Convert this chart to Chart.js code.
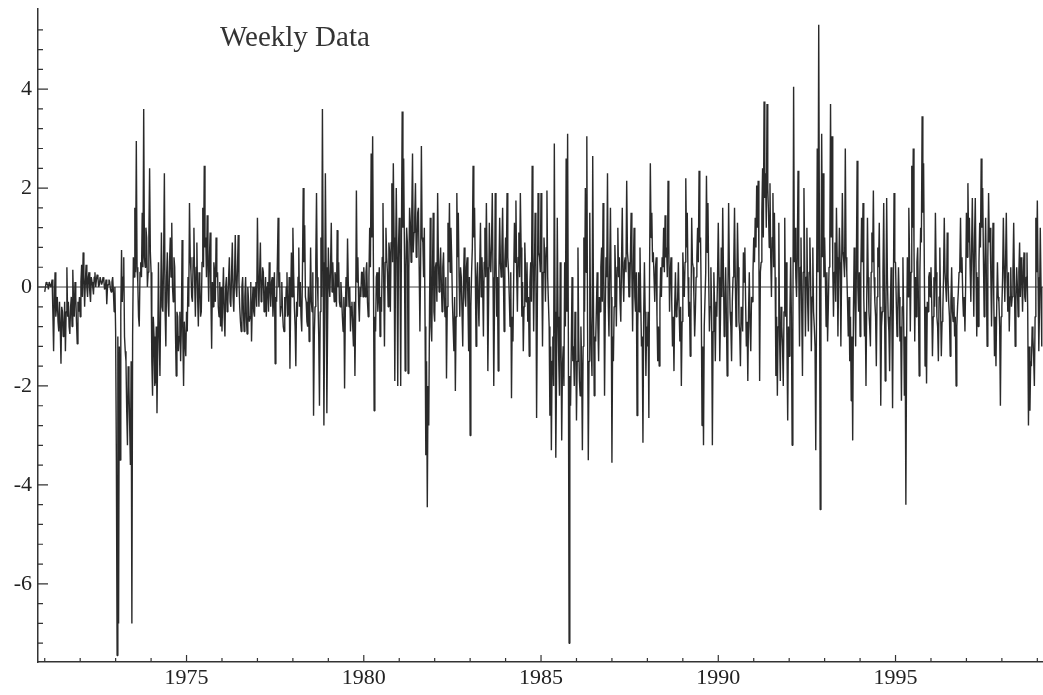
<!DOCTYPE html>
<html>
<head>
<meta charset="utf-8">
<title>Weekly Data</title>
<script src="https://cdn.jsdelivr.net/npm/chart.js@4.4.1/dist/chart.umd.min.js"></script>
<style>
  html, body { margin: 0; padding: 0; background: #fff; }
  #wrap { width: 1043px; height: 695px; position: relative; }
</style>
</head>
<body>
<div id="wrap"><canvas id="weekly"></canvas></div>
<script>
// values, 48 per year starting at 1971.0
const startYear = 1971;
const perYear = 48;

const w1971 = [-0.1, 0.0, 0.1, 0.05, 0.05, -0.05, 0.1, 0.1, 0.0, 0.05, 0.15, -0.5, -1.3, -0.3, 0.3, -0.6, -0.4, -0.2, -0.7, -0.9, -0.3, -0.8, -1.55, -0.4, -0.5, -1.0, -0.9, -0.3, -1.3, -0.5, 0.4, -0.6, -0.3, -0.8, -0.95, -0.4, -0.2, -0.8, 0.35, -0.3, -0.6, 0.1, -0.2, -0.7, -1.15, -0.3, -0.5, -0.2];
const w1972 = [-0.6, 0.1, 0.45, -0.2, 0.7, 0.2, -0.4, 0.1, 0.45, 0.0, -0.2, 0.2, 0.3, -0.1, -0.3, 0.2, 0.1, 0.0, -0.15, 0.2, 0.3, 0.0, 0.15, 0.25, 0.2, 0.0, 0.05, 0.2, 0.2, 0.05, 0.1, 0.2, 0.15, -0.05, 0.0, 0.15, -0.35, 0.0, 0.05, 0.15, 0.1, -0.05, -0.1, 0.1, 0.2, -0.1, -0.5, 0.0];
const w1973 = [-0.9, -3.5, -7.45, -1.0, -6.8, -1.2, -3.5, -0.5, 0.75, -0.3, 0.2, 0.6, -1.0, -1.3, -1.5, -2.5, -3.2, -1.6, -2.0, -2.8, -3.6, -1.5, -6.8, -1.0, 0.6, 0.2, 1.6, 0.3, 2.95, 0.4, 0.1, -0.6, -0.8, 0.3, 0.5, 0.2, 1.5, 0.4, 3.6, 0.6, 0.4, 1.2, 1.0, 0.0, 0.3, 1.0, 2.4, 0.7];
const w1974 = [0.3, -1.5, -2.2, -0.6, -1.0, -2.0, -1.9, -0.8, -2.55, -1.2, 0.5, -1.0, -1.8, -0.3, 1.1, -0.4, -0.5, 0.6, 2.3, -0.5, -1.2, 0.2, 0.7, -0.3, -0.6, 0.5, 1.0, 0.2, 1.3, 0.0, -0.3, 0.6, 0.4, -0.9, -1.8, -0.5, -0.6, -1.3, -1.0, -0.5, -1.5, -0.8, 0.95, -1.0, -2.0, -0.7, -1.1, -1.4];
const w1975 = [-0.5, -0.9, 0.2, -0.4, 1.7, 0.6, 0.3, -0.2, -0.3, 0.6, 1.2, 0.1, -0.6, 0.4, 0.9, -0.2, -0.8, 0.3, 0.1, -0.6, -0.5, 0.5, 1.6, 0.4, 2.45, 0.8, 1.0, 0.2, 1.45, 0.5, -0.3, 0.6, 1.1, -0.2, -1.25, 0.1, -0.4, 0.5, 0.3, -0.3, 1.0, 0.2, 0.3, -0.4, -0.6, 0.1, -0.8, 0.0];
const w1976 = [-0.9, -0.2, 0.4, -0.6, -1.0, 0.0, 0.2, -0.5, -0.3, 0.2, 0.6, -0.3, -0.4, 0.3, 0.9, -0.2, -0.5, 0.2, 1.05, 0.0, -0.2, 0.4, 1.05, 0.1, -0.4, -0.7, -0.9, 0.0, 0.2, -0.5, -0.9, -0.2, 0.2, -0.6, -0.95, 0.0, -0.3, -0.7, -0.6, 0.1, -1.1, -0.4, 0.0, -0.5, -0.6, 0.0, 0.1, -0.4];
const w1977 = [1.4, 0.2, -0.4, 0.3, 0.9, -0.3, -0.2, 0.4, 0.3, -0.5, -0.3, 0.2, -0.6, 0.0, 0.1, -0.5, 0.5, 0.0, -0.4, 0.1, 0.2, -0.6, -0.2, 0.3, -1.55, -0.2, -0.3, 0.5, 1.4, 0.0, 0.3, -0.6, -0.4, 0.1, -0.5, -0.8, -0.9, -0.2, -0.6, 0.0, 0.3, -0.6, -0.5, 0.2, -1.65, -0.3, 0.7, -0.2];
const w1978 = [1.2, 0.3, -0.4, -0.8, -1.6, -0.3, -0.6, 0.2, 0.8, -0.4, 0.1, -0.6, -0.9, 0.4, 2.0, 0.5, 1.25, -0.2, -0.3, -0.7, -0.8, 0.0, -1.1, -0.4, 0.8, -0.3, -0.5, 0.3, -2.6, -1.0, -0.4, 0.5, 1.9, 0.2, -0.3, -1.0, -2.4, -0.5, 1.0, -0.2, 3.6, 0.5, -2.8, -0.6, 2.3, 0.4, -2.55, -0.8];
const w1979 = [0.8, 0.1, -0.2, 0.4, 1.3, -0.1, 0.5, 0.0, -0.3, 0.3, 0.2, -0.4, 1.15, 0.0, 0.5, -0.3, -0.4, 0.1, -0.2, -0.6, -0.9, -0.2, -2.05, -0.5, 0.2, -0.4, 0.98, 0.1, -0.4, 0.0, -0.9, -0.4, -0.3, -0.8, -1.2, -0.3, -1.8, -0.5, 1.95, 0.1, 0.6, -0.3, -0.7, 0.0, -0.2, 0.3, 0.3, -0.2];
const w1980 = [0.4, 0.0, -0.2, 0.3, 0.5, -0.3, -0.6, 0.2, 1.2, 0.4, 2.7, 1.0, 3.05, 0.5, -2.5, -0.6, -0.9, 0.2, 0.3, -0.5, -0.2, 0.4, -1.0, -0.2, -0.5, 0.6, 1.7, 0.1, -1.2, 0.5, 1.2, 0.6, 0.3, -0.4, 0.9, 0.7, -0.5, 0.9, 2.1, 0.5, 2.5, 1.0, -1.9, 0.4, 2.0, 0.6, -2.0, 0.8];
const w1981 = [1.4, 0.6, -2.0, 1.0, 3.55, 1.2, 2.6, 0.8, -1.7, 0.4, 1.2, 0.9, -1.75, 0.3, 1.6, 1.3, 0.5, 1.5, 2.7, 0.7, 1.1, 1.4, 2.1, 0.6, 0.8, 1.5, 1.6, 0.4, -0.9, 0.5, 2.85, 1.0, 0.9, 0.2, 1.2, -0.8, -3.4, -1.5, -4.45, -2.0, -2.8, -0.5, 1.4, -0.8, -1.1, 0.3, 1.5, -0.5];
const w1982 = [-0.7, 0.4, 0.5, -0.3, 1.9, 0.6, -0.1, 0.3, 0.8, 0.1, -0.5, 0.4, 0.7, -0.2, -0.6, 0.2, -1.85, -0.4, 1.3, 0.5, 1.7, 0.3, 1.2, 0.6, -0.3, -0.8, -1.3, -0.2, -2.1, -0.6, 1.9, 0.6, 1.5, 0.2, -0.6, 0.4, 0.2, -0.5, -1.2, 0.1, 0.8, -0.2, -0.4, 0.4, 0.6, -0.3, -1.3, 0.2];
const w1983 = [-3.0, -0.4, 0.3, 0.8, 2.45, 1.0, 1.6, 0.3, -1.2, 0.2, 0.5, -0.3, -0.8, 0.4, 1.3, -0.2, 0.6, 0.0, -1.0, 0.5, 1.2, 0.2, 1.7, 0.4, -1.7, -0.3, 1.3, 0.5, 0.3, 0.9, 1.9, 0.2, -2.0, -0.4, 1.9, 0.6, -0.6, 0.2, -1.7, 0.3, 1.4, 0.5, 0.2, 0.8, 1.6, 0.3, -0.9, 0.5];
const w1984 = [1.0, 0.4, 1.9, 0.6, 0.3, -0.2, -0.8, 0.3, -2.25, -0.6, -1.1, 0.2, 1.3, 0.5, 1.75, 0.3, -0.5, 0.6, 1.1, 0.2, 1.9, 0.8, -0.6, 0.1, -1.3, -0.4, 0.9, 0.3, -0.3, 0.5, -0.7, -0.2, -1.4, 0.1, 0.5, -0.3, 2.45, 0.7, -0.9, 0.3, 1.5, 0.5, -2.65, -0.4, 1.9, 0.7, 0.6, 0.3];
const w1985 = [1.9, 0.5, -1.2, 0.3, 1.0, 0.6, -0.3, 0.8, 1.95, 0.2, -0.3, -0.8, -2.6, -1.2, -3.3, -1.5, -1.0, -2.0, 2.9, -0.5, -3.45, -1.8, 1.4, -0.6, -1.5, -2.2, 0.5, -1.0, -3.1, -1.6, -1.2, -2.0, 0.5, -0.8, 2.6, -0.5, 3.1, -1.0, -7.2, -1.8, -2.4, -1.2, 0.2, -1.5, -1.2, -2.0, -0.5, -1.0];
const w1986 = [-2.7, -1.5, 0.8, -1.0, -1.9, -2.2, -0.8, -1.6, -3.3, -1.2, 1.0, -0.5, 2.0, 0.3, 3.05, -0.8, -3.5, -1.5, 1.5, -0.6, -1.2, -1.8, 2.65, -0.3, -2.2, -1.0, -1.1, -0.4, 0.3, -0.8, -1.5, -0.2, -0.5, 0.4, 0.8, -0.3, 1.7, 0.3, -2.2, -0.5, 0.6, 0.2, 2.3, -0.3, -1.0, 0.4, 1.6, -0.2];
const w1987 = [-3.55, -1.0, -1.5, -0.4, 0.85, 0.2, -0.8, 0.4, 1.2, 0.2, 0.6, -0.3, -0.7, 0.5, 1.6, 0.2, -0.3, 0.5, 0.6, 0.3, 2.15, 0.7, 0.5, -0.2, -0.2, 0.6, 1.5, 0.3, -0.9, 0.4, 1.2, -0.2, -0.5, 0.3, -2.6, -0.8, 0.3, -0.5, 0.8, -0.3, -1.2, -1.0, -3.15, -0.6, 0.5, -0.5, -1.8, -0.8];
const w1988 = [-1.2, -0.5, -2.65, 0.4, 2.5, 1.0, 1.5, 0.5, 0.7, 0.2, -0.3, 0.4, 0.6, -0.6, -1.5, -0.8, -1.6, -0.3, 0.4, -0.2, 0.6, 0.4, 1.2, 0.3, 1.45, 0.6, 0.8, 0.2, 2.15, 0.9, -0.5, 0.3, 0.6, -0.3, -1.2, -0.6, -1.7, -0.4, 0.3, -0.6, -0.5, -0.2, 0.5, -0.5, -1.1, -0.4, -2.0, -0.7];
const w1989 = [0.7, 0.2, -0.2, 0.5, 2.2, 0.8, 1.5, 0.2, -0.6, -0.3, -1.4, -0.6, 1.4, 0.5, 0.4, -0.2, -1.0, -0.5, 0.2, 0.6, 1.2, 0.5, 2.35, 0.9, 1.0, -0.4, -2.8, -1.2, -3.2, -0.8, -0.8, 0.3, 2.25, 0.7, 1.7, 0.2, -0.9, -0.4, 0.4, -0.5, -3.2, -0.9, 0.3, -0.4, -1.5, -0.3, -0.6, 0.2];
const w1990 = [1.3, 0.2, -1.5, -0.6, 0.8, -0.2, 1.6, 0.3, -1.0, -0.5, 0.4, -0.6, -1.8, -0.3, 1.7, 0.4, -0.5, -0.8, -1.5, -0.3, 0.2, 0.5, 1.6, 0.2, -0.8, -0.2, 1.3, 0.4, -0.7, -0.9, -1.6, -0.4, -0.5, -0.9, 0.7, 0.1, 0.8, -0.3, -1.2, -0.7, -1.9, -0.5, 0.3, -0.8, -1.3, -0.2, -0.3, 0.3];
const w1991 = [1.0, 0.5, 1.4, 0.8, 2.05, 1.2, 2.15, 0.6, -1.9, 0.3, 0.5, 1.5, 2.4, 1.0, 3.75, 1.8, 2.3, 1.2, 3.7, 2.0, 1.5, 0.8, 2.1, 0.6, -0.2, 1.0, 1.9, 0.4, 1.5, 0.2, -1.8, -0.6, -2.2, -0.8, 1.3, -1.0, -1.9, -0.4, -0.8, -1.2, -2.0, -0.5, 1.4, -0.6, 0.5, -1.2, -2.7, -0.8];
const w1992 = [-1.4, -0.5, 0.6, -0.6, -3.2, -1.0, 4.05, 0.5, 1.2, 0.2, -0.2, 0.6, 2.35, 0.3, -1.2, 0.4, 1.0, -0.5, -1.8, 0.3, 2.0, 0.5, -1.0, 0.2, 1.2, -0.3, -0.9, 0.3, 1.0, 0.2, -1.3, -0.2, 0.8, -0.5, -0.8, -1.2, -3.3, -0.6, 2.8, 0.3, 5.3, 0.8, -4.5, 0.0, 3.1, 0.6, 2.3, 0.2];
const w1993 = [1.0, 0.2, -0.8, 0.3, -1.1, -0.4, 0.4, 0.8, 3.7, 1.0, 3.05, 0.4, -0.6, 0.3, 0.9, -0.3, 1.6, 0.6, -1.0, 0.2, 1.2, 0.5, -1.2, 0.3, 1.9, 0.7, 0.5, 0.2, 2.8, 0.6, 0.3, -0.3, -1.0, -0.2, -1.5, -0.6, -2.3, -1.0, -3.1, -0.5, 0.8, -0.3, -1.2, 0.4, 2.55, 0.0, -0.5, 0.3];
const w1994 = [-1.0, 0.3, 1.4, 0.5, 1.7, -0.2, -1.0, -0.5, -2.0, -0.3, 1.4, 0.2, -0.5, -0.8, -1.2, 0.3, 1.1, 0.5, 1.95, 0.2, -0.3, -0.6, -1.6, -0.2, 0.8, 0.4, 1.3, -0.4, -2.4, -0.8, -0.5, 0.3, 1.7, -0.2, -1.9, -0.5, 1.8, 0.2, -0.6, -0.9, -1.7, -0.4, 0.4, -0.6, -2.45, -0.3, 1.9, 0.5];
const w1995 = [0.5, -0.3, -1.0, -0.5, 0.4, -0.2, -1.1, -0.8, -2.3, -0.4, 0.6, -0.6, -2.2, -1.0, -4.4, -1.2, 0.6, -0.2, 1.6, 0.6, -0.9, 0.3, 2.45, 1.2, 2.8, 0.8, -1.1, 0.2, -0.6, 0.5, 0.8, -0.3, -1.8, 0.3, 1.2, 0.9, 3.45, 1.5, 2.5, 0.4, -1.6, -0.4, -1.95, -0.3, -0.5, 0.2, 0.3, -0.2];
const w1996 = [0.4, -0.3, -1.4, -0.6, 0.2, -0.4, 1.5, 0.3, -0.6, -0.8, -1.5, -0.2, 0.8, -0.4, -1.4, -0.7, -0.5, 0.2, 1.4, 0.3, 0.3, -0.3, 1.1, 0.2, -0.3, -0.6, -1.4, -0.3, 0.4, -0.5, -0.7, -0.2, -1.0, -0.6, -2.0, -0.8, -0.4, -0.1, 0.3, 0.4, 1.4, 0.3, 0.6, -0.2, -0.6, -0.2, -0.9, 0.1];
const w1997 = [1.5, 0.6, 2.1, 0.9, 1.4, 0.4, -0.3, 0.8, 1.8, 0.5, -0.6, 1.0, 1.8, 0.3, -1.0, 0.2, -0.8, 0.5, 1.3, 0.8, 2.6, 1.2, 2.0, 0.6, -0.6, 0.4, 1.4, 0.2, -1.2, 0.6, 1.9, 0.9, 1.2, 0.3, -0.8, 0.4, 1.3, -0.2, -1.4, -0.6, -1.6, -0.4, 0.5, -0.2, -0.3, -0.8, -2.4, -0.6];
const w1998 = [-0.4, 0.2, 1.4, 0.4, -0.3, 0.5, 1.5, 0.2, -0.5, 0.3, -0.9, -0.2, 0.4, -0.4, -0.2, 0.3, 1.3, 0.1, -1.2, -0.3, 0.4, 0.0, -0.6, 0.3, 0.9, -0.2, 0.6, 0.2, -0.5, 0.3, 0.7, -0.2, -0.3, 0.2, 0.7, -0.5, -2.8, -1.2, -2.5, -1.5, -1.6, -0.8, -1.0, -1.4, -2.0, -0.6, 1.4, 0.3];
const w1999 = [1.75, 0.2, -1.3, -0.4, 1.2, 0.0, -1.2];

const yearRows = [w1971, w1972, w1973, w1974, w1975, w1976, w1977, w1978, w1979, w1980,
  w1981, w1982, w1983, w1984, w1985, w1986, w1987, w1988, w1989, w1990,
  w1991, w1992, w1993, w1994, w1995, w1996, w1997, w1998, w1999];

const xTicks = [1975, 1980, 1985, 1990, 1995];
const xMinor = [1971, 1972, 1973, 1974, 1976, 1977, 1978, 1979, 1981, 1982, 1983, 1984,
  1986, 1987, 1988, 1989, 1991, 1992, 1993, 1994, 1996, 1997, 1998, 1999];
const yTicks = [-6, -4, -2, 0, 2, 4];
const yMinor = [-7.2, -6.8, -6.4, -5.6, -5.2, -4.8, -4.4, -3.6, -3.2, -2.8, -2.4,
  -1.6, -1.2, -0.8, -0.4, 0.4, 0.8, 1.2, 1.6, 2.4, 2.8, 3.2, 3.6, 4.4, 4.8, 5.2];

const points = [];
yearRows.forEach((row, k) => {
  row.forEach((v, i) => points.push({ x: startYear + k + i / perYear, y: v }));
});

const axisMarks = {
  id: 'axisMarks',
  beforeDatasetsDraw(chart) {
    const { ctx, chartArea, scales: { y } } = chart;
    const y0 = y.getPixelForValue(0);
    ctx.save();
    ctx.strokeStyle = '#444';
    ctx.lineWidth = 1;
    ctx.beginPath();
    ctx.moveTo(chartArea.left, y0);
    ctx.lineTo(chartArea.right, y0);
    ctx.stroke();
    ctx.restore();
  },
  afterDraw(chart) {
    const { ctx, chartArea, scales: { x, y } } = chart;
    ctx.save();
    ctx.strokeStyle = '#333';
    ctx.lineWidth = 1.2;
    ctx.beginPath();
    yMinor.forEach(v => {
      const py = y.getPixelForValue(v);
      ctx.moveTo(chartArea.left, py);
      ctx.lineTo(chartArea.left + 5, py);
    });
    yTicks.forEach(v => {
      const py = y.getPixelForValue(v);
      ctx.moveTo(chartArea.left, py);
      ctx.lineTo(chartArea.left + 10, py);
    });
    xMinor.forEach(v => {
      const px = x.getPixelForValue(v);
      ctx.moveTo(px, chartArea.bottom);
      ctx.lineTo(px, chartArea.bottom - 4);
    });
    xTicks.forEach(v => {
      const px = x.getPixelForValue(v);
      ctx.moveTo(px, chartArea.bottom);
      ctx.lineTo(px, chartArea.bottom - 7);
    });
    ctx.stroke();

    ctx.fillStyle = '#333';
    ctx.font = '29px "Liberation Serif"';
    ctx.textBaseline = 'alphabetic';
    ctx.textAlign = 'left';
    ctx.fillText('Weekly Data', chartArea.left + 182, chartArea.top + 37);
    ctx.restore();
  }
};

const tickFont = { family: '"Liberation Serif", "Times New Roman", serif', size: 22 };

new Chart(document.getElementById('weekly'), {
  type: 'line',
  data: {
    datasets: [{
      label: 'Weekly Data',
      data: points,
      borderColor: '#2a2a2a',
      borderWidth: 1.4,
      borderJoinStyle: 'bevel',
      pointRadius: 0,
      tension: 0,
      fill: false
    }]
  },
  options: {
    responsive: true,
    maintainAspectRatio: false,
    animation: false,
    layout: { padding: { top: 9, right: 0, left: 0, bottom: 0 } },
    plugins: {
      legend: { display: false },
      tooltip: { enabled: false }
    },
    scales: {
      x: {
        type: 'linear',
        min: 1970.81,
        max: 1999.16,
        afterFit: s => { s.height = 33; s.paddingLeft = 0; s.paddingRight = 0; },
        afterBuildTicks: s => { s.ticks = xTicks.map(v => ({ value: v })); },
        grid: { display: false, drawTicks: false },
        border: { display: true, color: '#333', width: 1.5 },
        ticks: {
          font: tickFont,
          color: '#222',
          padding: 3,
          maxRotation: 0,
          callback: v => String(v)
        }
      },
      y: {
        min: -7.58,
        max: 5.62,
        afterFit: s => { s.width = 38; s.paddingTop = 0; s.paddingBottom = 0; },
        afterBuildTicks: s => { s.ticks = yTicks.map(v => ({ value: v })); },
        grid: { display: false, drawTicks: false },
        border: { display: true, color: '#333', width: 1.5 },
        ticks: {
          font: tickFont,
          color: '#222',
          padding: 6,
          callback: v => String(v)
        }
      }
    }
  },
  plugins: [axisMarks]
});
</script>
</body>
</html>
